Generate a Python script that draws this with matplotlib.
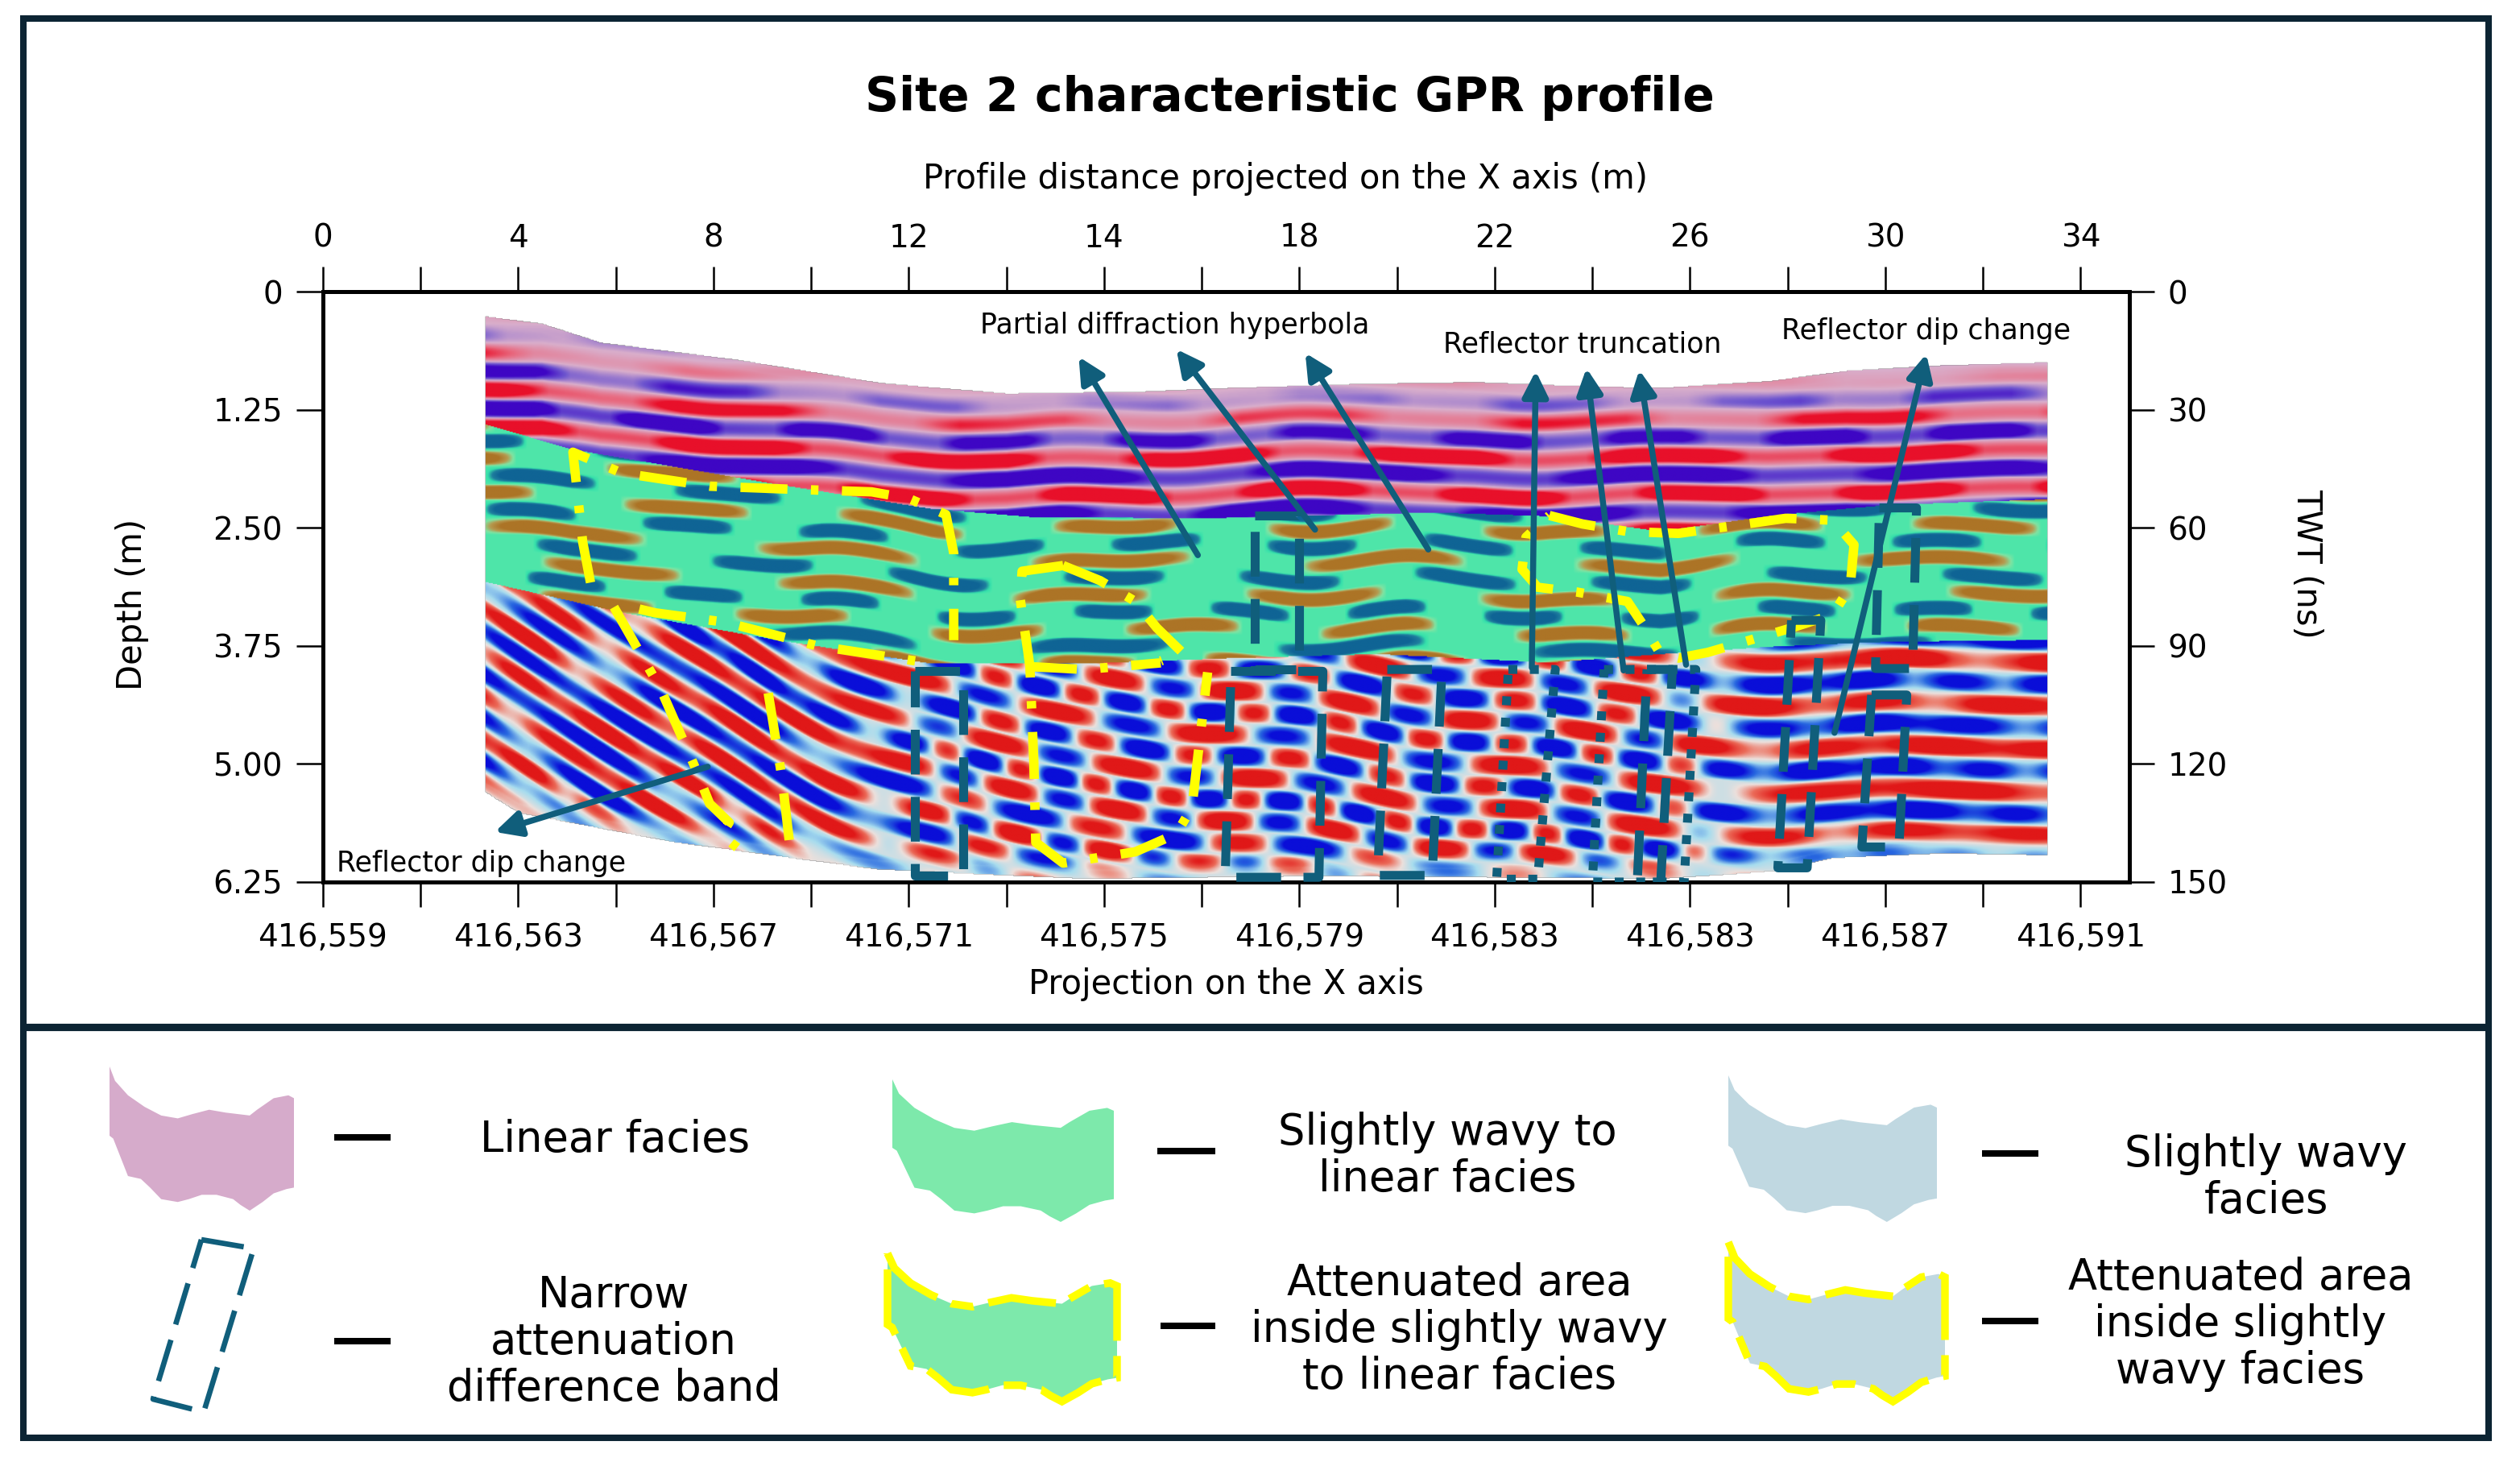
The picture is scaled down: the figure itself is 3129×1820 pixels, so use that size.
import numpy as np
import matplotlib
matplotlib.use("Agg")
import matplotlib.pyplot as plt
from matplotlib.colors import LinearSegmentedColormap
from matplotlib.patches import Polygon, Rectangle

plt.rcParams['font.family'] = ['DejaVu Sans']

# ---------------- data ----------------
top_labels = ['0', '4', '8', '12', '14', '18', '22', '26', '30', '34']
bottom_labels = ['416,559', '416,563', '416,567', '416,571', '416,575',
                 '416,579', '416,583', '416,583', '416,587', '416,591']
depth_ticks = [0, 1.25, 2.5, 3.75, 5.0, 6.25]
depth_labels = ['0', '1.25', '2.50', '3.75', '5.00', '6.25']
twt_ticks = [0, 30, 60, 90, 120, 150]

# layer boundaries (x = tick index position, d = depth m)
surface_x = [0.82, 1.12, 1.42, 2.11, 2.86, 3.5, 4.2, 4.64, 5.3, 5.9, 6.4, 6.85, 7.4, 7.8, 8.3, 8.83]
surface_d = [0.26, 0.34, 0.54, 0.72, 0.97, 1.08, 1.06, 1.02, 0.98, 0.96, 1.0, 1.02, 0.95, 0.84, 0.78, 0.75]
green_top_x = [0.82, 1.27, 2.32, 3.11, 3.64, 4.54, 5.70, 6.28, 6.85, 7.43, 8.01, 8.83]
green_top_d = [1.40, 1.67, 2.04, 2.30, 2.39, 2.40, 2.34, 2.38, 2.54, 2.37, 2.26, 2.20]
green_bot_x = [0.82, 1.53, 2.32, 3.11, 3.90, 4.69, 5.40, 6.28, 6.85, 7.43, 8.01, 8.83]
green_bot_d = [3.07, 3.40, 3.69, 3.94, 3.94, 3.88, 3.84, 3.93, 3.84, 3.76, 3.71, 3.69]
base_x = [0.82, 1.0, 1.79, 2.84, 3.90, 5.12, 6.85, 7.43, 7.73, 8.30, 8.83]
base_d = [5.29, 5.52, 5.83, 6.12, 6.22, 6.19, 6.22, 6.14, 6.00, 5.95, 5.97]

# reflector character read along the profile
phase_x = [0.8, 1.4, 2.0, 2.6, 3.2, 3.8, 4.4, 5.0, 5.6, 6.2, 6.8, 7.4, 8.0, 8.6, 8.9]
phase_top = [0.0, 0.6, 0.2, 0.9, 0.4, 1.1, 0.6, 1.3, 0.7, 0.3, 1.0, 0.5, 0.1, 0.4, 0.3]
phase_mid = [0.3, 0.9, 0.4, 1.2, 0.1, 0.8, 1.3, 0.5, 1.1, 0.3, 0.8, 1.2, 0.6, 0.4, 0.2]
phase_low = [0.1, 0.4, 0.9, 0.3, 1.2, 0.7, 0.2, 1.0, 0.5, 1.3, 0.7, 0.2, 0.9, 0.5, 0.4]
dip_x = [0.8, 1.5, 2.3, 3.0, 3.6, 4.5, 5.5, 6.3, 7.0, 7.8, 8.9]
dip_s = [1.45, 1.40, 1.20, 0.70, 0.30, 0.20, 0.35, 0.20, 0.10, 0.0, 0.0]
blob_x = [0.8, 2.8, 3.3, 6.8, 7.3, 8.9]
blob_w = [0.30, 0.30, 0.80, 0.80, 0.25, 0.25]
row_offsets = [0.0, 0.37, 0.71, 0.18, 0.55, 0.90, 0.26, 0.63, 0.08, 0.45,
               0.82, 0.31, 0.67, 0.12, 0.50, 0.77, 0.22, 0.60, 0.95, 0.40, 0.15]
row_lengths = [1.10, 0.80, 1.40, 0.90, 1.20, 0.70, 1.00, 1.30, 0.85, 1.15, 0.95]

# annotations
arrow_tails = [(4.48, 2.79), (5.08, 2.52), (5.66, 2.73), (6.19, 3.98), (6.66, 4.01),
               (6.98, 3.95), (7.74, 4.67), (1.97, 5.03)]
arrow_heads = [(3.87, 0.69), (4.37, 0.61), (5.03, 0.65), (6.21, 0.84), (6.47, 0.81),
               (6.74, 0.83), (8.21, 0.66), (0.88, 5.72)]
annot_texts = ['Partial diffraction hyperbola', 'Reflector truncation',
               'Reflector dip change', 'Reflector dip change']
annot_pos = [(4.36, 0.36), (6.45, 0.56), (8.21, 0.42), (0.82, 6.05)]

yellow_paths = [
    ([1.37, 1.33, 1.28, 1.53, 1.98, 2.37, 2.81, 3.0, 3.19, 3.23, 3.23],
     [3.08, 2.65, 1.70, 1.92, 2.06, 2.09, 2.12, 2.19, 2.36, 2.77, 3.69]),
    ([1.62, 1.70, 2.06, 2.53, 3.13], [3.36, 3.40, 3.50, 3.75, 3.94]),
    ([1.49, 1.73, 1.90, 1.98, 2.08, 2.04, 2.19], [3.34, 4.21, 5.01, 5.42, 5.62, 5.75, 6.0]),
    ([2.28, 2.35, 2.40], [4.25, 5.14, 6.03]),
    ([3.79, 3.58, 3.57, 3.61, 3.62, 3.64, 3.65, 3.79, 4.16, 4.37, 4.45, 4.48, 4.53],
     [2.90, 2.96, 3.25, 3.82, 3.97, 4.98, 5.83, 6.05, 5.93, 5.74, 5.46, 4.92, 4.03]),
    ([3.79, 3.98, 4.16, 4.27, 4.40, 4.29], [2.90, 3.06, 3.28, 3.56, 3.82, 3.91]),
    ([3.62, 3.90, 4.29], [3.97, 4.00, 3.93]),
    ([6.28, 6.45, 6.68, 6.94, 7.29, 7.49, 7.73, 7.84, 7.82, 7.73, 7.52, 7.29, 7.09, 6.94,
      6.85, 6.77, 6.68, 6.42, 6.22, 6.14, 6.16, 6.28],
     [2.37, 2.46, 2.54, 2.56, 2.46, 2.40, 2.42, 2.68, 3.13, 3.42, 3.56, 3.70, 3.82, 3.88,
      3.84, 3.56, 3.28, 3.18, 3.13, 2.94, 2.60, 2.37]),
]

# narrow attenuation bands: x left-top, right-top, left-bottom, right-bottom, d top, d bottom, style
bands = [
    (3.03, 3.28, 3.03, 3.28, 4.02, 6.18, 'dash'),
    (4.77, 5.00, 4.77, 5.00, 2.37, 4.00, 'dash'),
    (4.65, 5.12, 4.62, 5.10, 4.02, 6.20, 'dash'),
    (5.45, 5.73, 5.40, 5.68, 4.00, 6.18, 'dash'),
    (6.07, 6.31, 6.01, 6.22, 4.00, 6.22, 'dot'),
    (6.56, 7.03, 6.50, 6.97, 4.00, 6.25, 'dot'),
    (6.78, 6.91, 6.73, 6.85, 4.00, 6.25, 'dash'),
    (7.52, 7.67, 7.45, 7.60, 3.48, 6.10, 'dash'),
    (7.97, 8.16, 7.95, 8.14, 2.29, 3.99, 'dash'),
    (7.93, 8.11, 7.88, 8.07, 4.27, 5.88, 'dash'),
]

# legend
legend_labels = ['Linear facies', 'Slightly wavy to\nlinear facies', 'Slightly wavy\nfacies',
                 'Narrow\nattenuation\ndifference band',
                 'Attenuated area\ninside slightly wavy\nto linear facies',
                 'Attenuated area\ninside slightly\nwavy facies']
legend_colors = ['#d6abcb', '#7de9ab', '#c0d8e1', None, '#7de9ab', '#c0d8e1']
shape_u = [0.0, 0.03, 0.10, 0.19, 0.28, 0.37, 0.45, 0.54, 0.63, 0.76, 0.80, 0.89, 0.97, 1.0,
           1.0, 0.96, 0.89, 0.83, 0.76, 0.71, 0.67, 0.58, 0.50, 0.43, 0.37, 0.28, 0.22, 0.17,
           0.10, 0.02, 0.0]
shape_v = [0.0, 0.10, 0.20, 0.28, 0.34, 0.36, 0.33, 0.30, 0.32, 0.34, 0.30, 0.22, 0.20, 0.22,
           0.84, 0.85, 0.88, 0.94, 1.0, 0.96, 0.92, 0.89, 0.89, 0.92, 0.94, 0.92, 0.84, 0.78,
           0.76, 0.50, 0.48]

TEAL = '#105e7b'
YELLOW = '#ffff00'
NAVY = '#0c2433'

# ---------------- figure ----------------
W, H, DPI = 3129, 1820, 200
fig = plt.figure(figsize=(W / DPI, H / DPI), dpi=DPI)
fig.patch.set_facecolor('white')

ov = fig.add_axes([0, 0, 1, 1], zorder=0)
ov.set_xlim(0, W)
ov.set_ylim(H, 0)
ov.axis('off')

AXL, AXR, AXT, AXB = 401, 2644, 362, 1095
ax = fig.add_axes([AXL / W, 1 - AXB / H, (AXR - AXL) / W, (AXB - AXT) / H], zorder=2)
ax.set_xlim(0, 9.25)
ax.set_ylim(6.25, 0)

# ---------------- radargram texture ----------------
xs = np.linspace(0.80, 8.86, 1500)
ds = np.linspace(0.20, 6.30, 640)
X, D = np.meshgrid(xs, ds)
dx = xs[1] - xs[0]


def smooth_profile(px, py, width=0.45):
    y = np.interp(xs, px, py)
    n = max(3, int(width / dx))
    k = np.hanning(n)
    k /= k.sum()
    yp = np.pad(y, n, mode='edge')
    return np.convolve(yp, k, mode='same')[n:-n][None, :]


surf = np.interp(xs, surface_x, surface_d)[None, :]
gt = np.interp(xs, green_top_x, green_top_d)[None, :]
gb = np.interp(xs, green_bot_x, green_bot_d)[None, :]
bt = np.interp(xs, base_x, base_d)[None, :]
pt = smooth_profile(phase_x, phase_top) * 0.35
pm = smooth_profile(phase_x, phase_mid) * 0.35
pl = smooth_profile(phase_x, phase_low) * 0.30
slope = smooth_profile(dip_x, dip_s, 0.5)[0]
shift = (np.cumsum(slope) * dx)[None, :]
bw = smooth_profile(blob_x, blob_w, 0.5)

inside = (X >= 0.83) & (X <= 8.83) & (D >= surf) & (D <= bt)
m_top = inside & (D < gt)
m_mid = inside & (D >= gt) & (D < gb)
m_low = inside & (D >= gb)

TWO_PI = 2 * np.pi
offs = np.array(row_offsets)
lens = np.array(row_lengths)


def segments(arg, scale, shift_rows=0):
    row = np.floor(arg * 2.0).astype(int) + shift_rows
    off = offs[row % len(offs)]
    length = lens[row % len(lens)] * scale
    return np.cos(TWO_PI * (X / length + off))


# linear facies: long horizontal reflectors, pale near the surface
arg_t = (D - 0.55 * surf) / 0.40 + pt
seg_t = segments(arg_t, 1.2)
amp_t = np.clip((D - surf) / 0.75, 0.12, 1.0)
v_top = np.sin(TWO_PI * arg_t) * (0.35 + 0.65 * np.clip(seg_t + 0.6, 0, 1)) * amp_t * 1.9

# slightly wavy to linear facies: brown / blue lenses on green
arg_m = (D - 0.45 * gt) / 0.36 + pm + 0.07 * np.sin(TWO_PI * X / 0.9 + 2.0 * pm)
seg_m = segments(arg_m, 1.0, 3)
v_mid = np.sin(TWO_PI * arg_m) * np.clip(seg_m + 0.35, 0, 1) ** 0.7 * 1.7

# slightly wavy facies: dipping reflectors to the left, chequered blobs in the middle
arg_l = (D - shift) / 0.46 + pl
seg_l = segments(arg_l, 0.55, 7)
seg_c = segments(arg_l, 1.6, 5)
v_low = (np.sin(TWO_PI * arg_l) * ((1 - bw) * (0.6 + 0.4 * np.clip(seg_c + 0.6, 0, 1))
                                   + bw * seg_l)
         * np.clip((bt - D) / 0.3, 0.3, 1.0) * 2.0)

cm_top = LinearSegmentedColormap.from_list('top', [
    (0.0, '#3e06c4'), (0.25, '#6d55cf'), (0.5, '#d9aecb'), (0.75, '#e86a80'), (1.0, '#e8102a')])
cm_mid = LinearSegmentedColormap.from_list('mid', [
    (0.0, '#0f6495'), (0.2, '#1f7e9e'), (0.36, '#35e0ab'), (0.5, '#4ee6aa'), (0.64, '#80e3a2'),
    (0.80, '#b59a50'), (1.0, '#ac7426')])
cm_low = LinearSegmentedColormap.from_list('low', [
    (0.0, '#0a0ed8'), (0.22, '#2868e0'), (0.42, '#a7dcee'), (0.56, '#ece0dc'),
    (0.74, '#eb6a58'), (1.0, '#e01818')])

rgba = np.zeros(X.shape + (4,))
rgba[m_top, :3] = cm_top(np.clip((v_top[m_top] + 1) / 2, 0, 1))[:, :3]
rgba[m_mid, :3] = cm_mid(np.clip((v_mid[m_mid] + 1) / 2, 0, 1))[:, :3]
rgba[m_low, :3] = cm_low(np.clip((v_low[m_low] + 1) / 2, 0, 1))[:, :3]
rgba[inside, 3] = 1.0
ax.imshow(rgba, extent=[xs[0], xs[-1], ds[-1], ds[0]], aspect='auto',
          interpolation='bilinear', zorder=1)

# ---------------- overlays ----------------
for px, pd in yellow_paths:
    ax.plot(px, pd, color=YELLOW, lw=4.2, linestyle=(0, (5, 2.5, 0.8, 2.5)),
            dash_capstyle='butt', solid_joinstyle='round', zorder=4)

for xlt, xrt, xlb, xrb, dt, db, sty in bands:
    ls = (0, (5, 2.5)) if sty == 'dash' else (0, (1.0, 1.4))
    ax.plot([xlt, xrt, xrb, xlb, xlt], [dt, dt, db, db, dt], color=TEAL, lw=4.0,
            linestyle=ls, dash_capstyle='butt', zorder=5)

for tail, head in zip(arrow_tails, arrow_heads):
    ax.annotate('', xy=head, xytext=tail, zorder=6,
                arrowprops=dict(arrowstyle='-|>,head_length=0.8,head_width=0.4',
                                color=TEAL, lw=2.7, mutation_scale=12,
                                shrinkA=0, shrinkB=0))

for i, (txt, pos) in enumerate(zip(annot_texts, annot_pos)):
    ha = 'left' if i == 3 else 'center'
    xx = 0.07 if i == 3 else pos[0]
    ax.text(xx, pos[1], txt, fontsize=12.5, ha=ha, va='center', zorder=7)

# ---------------- axes formatting ----------------
for sp in ax.spines.values():
    sp.set_linewidth(1.8)
ax.set_xticks(range(10))
ax.set_xticklabels(bottom_labels)
ax.set_xticks(np.arange(0.5, 9.0, 1.0), minor=True)
ax.set_yticks(depth_ticks)
ax.set_yticklabels(depth_labels)
ax.tick_params(axis='x', which='both', length=11, width=0.9, labelsize=14, pad=7)
ax.tick_params(axis='y', which='both', length=12, width=0.9, labelsize=14, pad=6)

sx = ax.secondary_xaxis('top')
sx.set_xticks(range(10))
sx.set_xticklabels(top_labels)
sx.set_xticks(np.arange(0.5, 9.0, 1.0), minor=True)
sx.tick_params(which='both', length=11, width=0.9, labelsize=14, pad=6)
sx.spines['top'].set_linewidth(1.8)

sy = ax.secondary_yaxis('right', functions=(lambda d: d * 24.0, lambda t: t / 24.0))
sy.set_yticks(twt_ticks)
sy.set_yticklabels([str(t) for t in twt_ticks])
sy.tick_params(length=11, width=0.9, labelsize=14, pad=6)
sy.spines['right'].set_linewidth(1.8)

# ---------------- text & frame ----------------
ov.text(1601, 121, 'Site 2 characteristic GPR profile', fontsize=21, fontweight='bold',
        ha='center', va='center')
ov.text(1596, 222, 'Profile distance projected on the X axis (m)', fontsize=15,
        ha='center', va='center')
ov.text(1522, 1222, 'Projection on the X axis', fontsize=15, ha='center', va='center')
ov.text(164, 750, 'Depth (m)', fontsize=15, rotation=90, ha='center', va='center')
ov.text(2864, 700, 'TWT (ns)', fontsize=15, rotation=-90, ha='center', va='center')

ov.add_patch(Rectangle((29, 23), 3061, 1762, fill=False, ec=NAVY, lw=2.9))
ov.plot([29, 3090], [1275, 1275], color=NAVY, lw=3.3, solid_capstyle='butt')

# ---------------- legend ----------------
shape_boxes = [(136, 1324, 365, 1503), (1108, 1340, 1383, 1517), (2146, 1335, 2405, 1517),
               None, (1102, 1556, 1387, 1740), (2146, 1542, 2415, 1740)]
dash_pos = [(415, 485, 1412), (1437, 1509, 1429), (2461, 2531, 1432),
            (415, 485, 1665), (1441, 1509, 1646), (2461, 2531, 1640)]
text_pos = [(764, 1415), (1797, 1435), (2814, 1462), (762, 1666), (1812, 1651), (2782, 1644)]
su = np.array(shape_u)
sv = np.array(shape_v)
for i in range(6):
    box = shape_boxes[i]
    if box is not None:
        x0, y0, x1, y1 = box
        pts = np.column_stack([x0 + su * (x1 - x0), y0 + sv * (y1 - y0)])
        ov.add_patch(Polygon(pts, closed=True, fc=legend_colors[i], ec='none'))
        if i >= 4:
            ov.add_patch(Polygon(pts, closed=True, fill=False, ec=YELLOW, lw=3.4,
                                 linestyle=(0, (9, 2, 3, 2))))
    else:
        corners = np.array([[250, 1539], [315, 1550], [253, 1753], [190, 1737], [250, 1539]])
        ov.plot(corners[:, 0], corners[:, 1], color=TEAL, lw=2.4, linestyle=(0, (8, 3)))
    xa, xb, yy = dash_pos[i]
    ov.plot([xa, xb], [yy, yy], color='black', lw=2.9, solid_capstyle='butt')
    tx, ty = text_pos[i]
    ov.text(tx, ty, legend_labels[i], fontsize=19, ha='center', va='center', linespacing=1.15)

fig.savefig('out.png', dpi=DPI, facecolor='white')
